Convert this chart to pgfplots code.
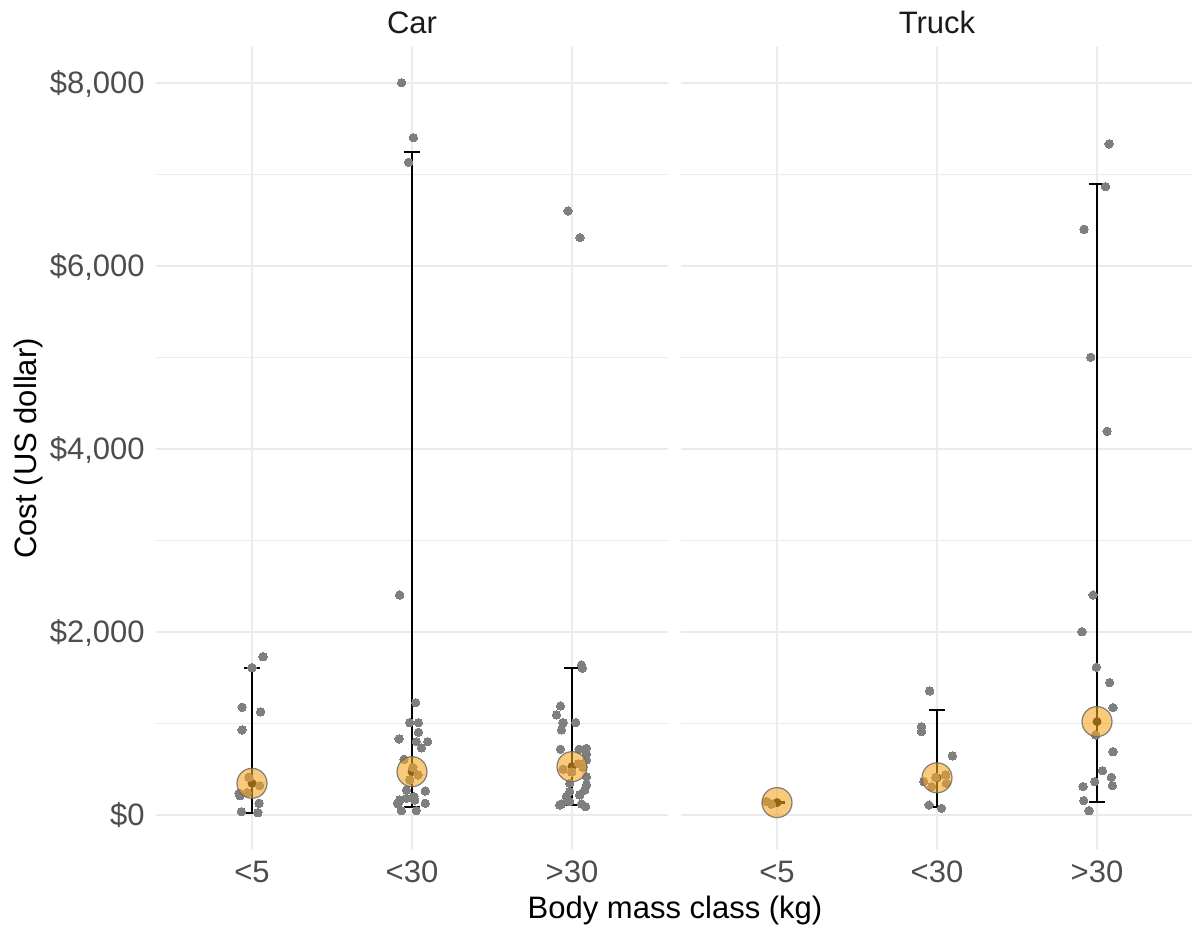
\documentclass[border=0pt]{standalone}
\usepackage{fontspec}
\setmainfont{Liberation Sans}
\usepackage{pgfplots}
\pgfplotsset{compat=1.18}
\definecolor{gridc}{HTML}{EBEBEB}
\definecolor{tickc}{HTML}{4D4D4D}
\definecolor{ptc}{HTML}{7F7F7F}
\definecolor{meanc}{RGB}{245,166,35}
\definecolor{stripc}{HTML}{1A1A1A}
\pgfplotsset{
 panel/.style={
  scale only axis, width=256pt, height=401pt,
  xmin=0.4, xmax=3.6, ymin=-372, ymax=8393,
  xtick={1,2,3}, xticklabels={{<5},{<30},{>30}},
  ytick={0,2000,4000,6000,8000},
  minor ytick={1000,3000,5000,7000},
  grid=both,
  major grid style={gridc, line width=1.1pt},
  minor grid style={gridc, line width=0.6pt},
  axis line style={draw=none},
  major tick length=0pt, minor tick length=0pt,
  tick style={draw=none},
  tick label style={font=\fontsize{15.5}{18}\selectfont, text=tickc},
  xticklabel style={anchor=base, inner sep=0pt, yshift=-17pt},
  yticklabel style={anchor=base east, inner sep=0pt, xshift=-5.5pt, yshift=-5.5pt},
  clip=false,
 },
 ebar/.style={only marks, mark=none, forget plot,
  error bars/.cd, y dir=both, y explicit,
  error mark=-,
  error bar style={line width=1pt, black},
  error mark options={rotate=90, black, line width=1pt, mark size=4.2pt}},
 pts/.style={only marks, mark=*, mark size=2.1pt, mark options={fill=ptc, draw=ptc, line width=0pt}},
 meanpt/.style={only marks, mark=*, mark size=7.5pt, mark options={fill=meanc, fill opacity=0.6, draw=ptc!80!black, draw opacity=0.8, line width=0.6pt}},
}
\begin{document}
\begin{tikzpicture}
\path[use as bounding box] (0,0) rectangle (596pt,464.5pt);
% ---------------- Car ----------------
\begin{axis}[panel, at={(78pt,40pt)}, anchor=south west,
  yticklabels={{\$0},{\$2,000},{\$4,000},{\$6,000},{\$8,000}}]
\addplot[ebar] coordinates {
 (1,346) += (0,1264) -= (0,321)
 (2,473) += (0,6773) -= (0,386)
 (3,528) += (0,1079) -= (0,419)
};
\addplot[pts] table {
x y
1.069 1730
1.000 1610
0.938 1177
1.054 1126
0.938 929
0.981 412
1.048 320
0.971 244
0.919 237
0.925 210
1.044 128
0.934 36
1.037 25
1.935 8003
2.009 7402
1.979 7133
1.923 2404
2.023 1227
1.986 1009
2.040 1009
2.040 903
1.919 831
2.027 801
2.098 801
2.059 732
1.950 609
2.006 519
2.037 437
1.986 383
1.965 273
2.083 262
2.012 200
1.965 182
1.923 164
2.017 164
2.083 128
1.913 120
1.913 135
1.934 47
2.027 47
2.975 6601
3.050 6310
3.059 1639
3.065 1603
2.928 1191
2.903 1093
2.944 1009
3.023 1009
2.934 929
2.928 718
3.044 718
3.090 727
3.090 667
3.090 601
3.040 560
3.069 520
2.944 500
2.998 470
3.090 419
2.986 346
3.090 328
3.079 273
2.986 255
3.048 219
2.965 200
2.986 146
2.934 120
2.923 109
3.059 120
3.085 91
};
\addplot[meanpt] coordinates {(1,346) (2,473) (3,528)};
\end{axis}
% ---------------- Truck ----------------
\begin{axis}[panel, at={(340.5pt,40pt)}, anchor=south west, yticklabels={}]
\addplot[ebar] coordinates {
 (1,135) += (0,4) -= (0,4)
 (2,406) += (0,742) -= (0,319)
 (3,1020) += (0,5876) -= (0,878)
};
\addplot[pts] table {
x y
0.934 146
0.965 120
1.954 1355
1.903 965
1.903 911
2.096 645
2.054 437
1.992 412
1.917 364
2.059 346
1.967 310
1.950 109
2.028 73
3.076 7333
3.053 6867
2.919 6401
2.961 5002
3.063 4193
2.975 2404
2.906 2003
2.996 1614
3.079 1446
3.100 1173
2.992 874
3.100 692
3.034 484
3.090 412
2.986 364
3.096 320
2.913 310
2.917 157
2.950 47
};
\addplot[meanpt] coordinates {(1,135) (2,406) (3,1020)};
\end{axis}
% ---------------- titles ----------------
\node[anchor=base, inner sep=0pt, text=stripc, font=\fontsize{15.5}{18}\selectfont] at (206pt,447.5pt) {Car};
\node[anchor=base, inner sep=0pt, text=stripc, font=\fontsize{15.5}{18}\selectfont] at (468.5pt,447.5pt) {Truck};
\node[anchor=base, inner sep=0pt, text=black, font=\fontsize{15.5}{18}\selectfont] at (337.5pt,5pt) {Body mass class (kg)};
\node[anchor=base, rotate=90, inner sep=0pt, text=black, font=\fontsize{15.5}{18}\selectfont] at (18.3pt,240.3pt) {Cost (US dollar)};
\end{tikzpicture}
\end{document}
